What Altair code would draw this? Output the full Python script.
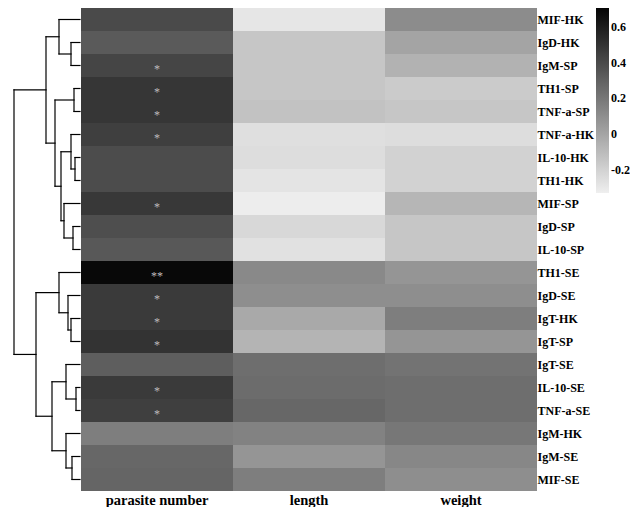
import altair as alt
import pandas as pd

rows = ["MIF-HK", "IgD-HK", "IgM-SP", "TH1-SP", "TNF-a-SP", "TNF-a-HK", "IL-10-HK",
        "TH1-HK", "MIF-SP", "IgD-SP", "IL-10-SP", "TH1-SE", "IgD-SE", "IgT-HK",
        "IgT-SP", "IgT-SE", "IL-10-SE", "TNF-a-SE", "IgM-HK", "IgM-SE", "MIF-SE"]
columns = ["parasite number", "length", "weight"]

parasite_number = [0.40, 0.33, 0.42, 0.49, 0.49, 0.45, 0.39, 0.39, 0.48, 0.38, 0.34,
                   0.69, 0.47, 0.47, 0.50, 0.31, 0.47, 0.45, 0.17, 0.27, 0.28]
length = [-0.29, -0.15, -0.15, -0.15, -0.13, -0.26, -0.25, -0.28, -0.32, -0.23, -0.27,
          0.12, 0.10, -0.02, -0.07, 0.24, 0.25, 0.27, 0.15, 0.07, 0.17]
weight = [0.11, 0.00, -0.06, -0.17, -0.15, -0.25, -0.20, -0.20, -0.08, -0.15, -0.15,
          0.07, 0.10, 0.17, 0.07, 0.22, 0.24, 0.24, 0.20, 0.13, 0.10]
significance = ["", "", "*", "*", "*", "*", "", "", "*", "", "",
                "**", "*", "*", "*", "", "*", "*", "", "", ""]

# dendrogram merges: (node a, node b, height); leaves are 0..20, merges numbered from 21
merges = [
    (1, 2, 9), (0, 21, 21), (3, 4, 6), (6, 7, 5), (5, 24, 9), (9, 10, 7), (8, 26, 16),
    (25, 27, 19), (23, 28, 25), (22, 29, 34), (13, 14, 9), (12, 31, 12), (11, 32, 21),
    (16, 17, 4), (15, 34, 14), (19, 20, 8), (18, 36, 14), (35, 37, 28), (33, 38, 44),
    (30, 39, 66),
]

# heatmap table
recs = []
for i, r in enumerate(rows):
    for c, vals in zip(columns, [parasite_number, length, weight]):
        recs.append({"row": r, "column": c, "value": vals[i],
                     "sig": significance[i] if c == "parasite number" else ""})
heat_df = pd.DataFrame(recs)

# dendrogram segments
n = len(rows)
pos = {i: i + 0.5 for i in range(n)}
hgt = {i: 0.0 for i in range(n)}
segs = []
for k, (a, b, h) in enumerate(merges):
    node = n + k
    for ch in (a, b):
        segs.append({"x": hgt[ch], "x2": h, "y": pos[ch], "y2": pos[ch]})
    segs.append({"x": h, "x2": h, "y": pos[a], "y2": pos[b]})
    pos[node] = (pos[a] + pos[b]) / 2
    hgt[node] = h
seg_df = pd.DataFrame(segs)

H = 483
dendro = alt.Chart(seg_df).mark_rule(color="black", strokeWidth=1.2, strokeCap="square").encode(
    x=alt.X("x:Q", scale=alt.Scale(domain=[72, 0], nice=False, zero=False), axis=None),
    x2="x2:Q",
    y=alt.Y("y:Q", scale=alt.Scale(domain=[0, 21], reverse=True, nice=False, zero=False), axis=None),
    y2="y2:Q",
).properties(width=72, height=H)

font = "Liberation Serif"
base = alt.Chart(heat_df).encode(
    x=alt.X("column:N", sort=columns, title=None,
            scale=alt.Scale(paddingInner=0, paddingOuter=0),
            axis=alt.Axis(orient="bottom", labelAngle=0, ticks=False, domain=False, grid=False,
                          labelFont=font, labelFontWeight="bold", labelFontSize=14.5,
                          labelColor="black", labelPadding=2)),
    y=alt.Y("row:N", sort=rows, title=None,
            scale=alt.Scale(paddingInner=0, paddingOuter=0),
            axis=alt.Axis(orient="right", ticks=False, domain=False, grid=False,
                          labelFont=font, labelFontWeight="bold", labelFontSize=12,
                          labelColor="black", labelPadding=0)),
)
rect = base.mark_rect(strokeWidth=0).encode(
    color=alt.Color("value:Q",
                    scale=alt.Scale(domain=[-0.33, 0.705], range=["#efefef", "#050505"],
                                    interpolate="rgb", nice=False, zero=False),
                    legend=alt.Legend(orient="none", legendX=588, legendY=0, title=None,
                                      direction="vertical",
                                      gradientLength=185, gradientThickness=13,
                                      gradientStrokeWidth=0,
                                      values=[-0.2, 0, 0.2, 0.4, 0.6],
                                      labelExpr="datum.value == 0 ? '0' : (datum.value < 0 ? '-' + format(-datum.value, '.1f') : format(datum.value, '.1f'))",
                                      labelFont=font, labelFontWeight="bold", labelFontSize=12,
                                      labelColor="black", labelOverlap=False, labelOffset=2)),
)
stars = base.mark_text(color="#bdbdbd", fontSize=12, font=font, dy=3).encode(text="sig:N")
heat = (rect + stars).properties(width=456, height=H)

chart = alt.hconcat(dendro, heat, spacing=0).properties(
    padding={"left": 0, "top": 0, "right": 0, "bottom": 0}
).configure_view(stroke=None)

chart.save("out.html", embed_options={"renderer": "svg", "actions": False})
